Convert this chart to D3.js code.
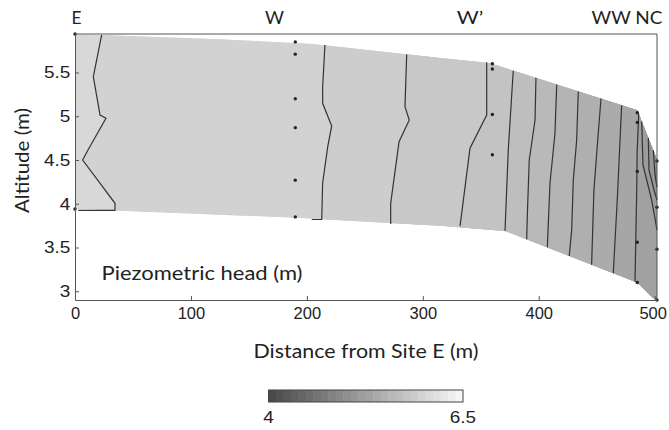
<!DOCTYPE html>
<html>
<head>
<meta charset="utf-8">
<script src="https://cdn.jsdelivr.net/npm/d3@7"></script>
<style>
body { margin: 0; background: #fff; }
</style>
</head>
<body>
<svg id="chart" width="669" height="430"></svg>
<script>
// axis ticks
const xTicks = [0, 100, 200, 300, 400, 500];
const yTicks = [3, 3.5, 4, 4.5, 5, 5.5];

// outline of the section (distance m, altitude m)
const sectionTop    = [[0, 5.94], [125, 5.88], [203, 5.83], [315, 5.665], [357, 5.61], [485, 5.07], [502, 4.50]];
const sectionBottom = [[502, 2.90], [498, 2.93], [485, 3.10], [371, 3.69], [315, 3.75], [190, 3.84], [0, 3.94]];

// piezometer screens
const sitesX  = {E: 0, W: 190, Wp: 360, WW: 485, NC: 502};
const screensE  = [5.94, 3.94];
const screensW  = [5.85, 5.71, 5.20, 4.87, 4.27, 3.85];
const screensWp = [5.60, 5.54, 5.02, 4.56];
const screensWW = [5.04, 4.93, 4.37, 3.56, 3.10];
const screensNC = [4.49, 3.96, 3.48, 2.90];

// head contours, from west (E) to east (NC)
const contourLevels = [6.00, 5.93, 5.86, 5.79, 5.72, 5.65, 5.58, 5.51, 5.44, 5.37, 5.30, 5.23, 5.16, 5.09];
const contourLines = [
  [[23.0, 5.93], [15.8, 5.452], [21.6, 5.014], [26.7, 4.977], [11.2, 4.614], [6.6, 4.50], [34.5, 4.005], [34.5, 3.925], [2.8, 3.925]],
  [[215.6, 5.815], [213.6, 5.338], [213.6, 5.148], [221.4, 4.889], [218.0, 4.652], [213.6, 4.237], [212.8, 3.82], [204.2, 3.82]],
  [[286.1, 5.705], [284.6, 5.109], [288.3, 4.957], [279.5, 4.709], [272.3, 4.005], [272.3, 3.77]],
  [[355.1, 5.613], [355.1, 5.014], [340.7, 4.634], [332.1, 3.745]],
  [[378.0, 5.52], [373.7, 4.614], [370.9, 3.69]],
  [[397.6, 5.44], [396.8, 4.957], [391.8, 4.50], [390.1, 3.852], [389.6, 3.595]],
  [[415.5, 5.364], [414.0, 4.805], [409.7, 4.234], [407.4, 3.502]],
  [[434.1, 5.284], [432.7, 4.729], [429.8, 4.271], [428.4, 3.70], [426.3, 3.404]],
  [[453.7, 5.202], [450.2, 4.614], [447.6, 4.157], [445.6, 3.304]],
  [[471.5, 5.126], [467.7, 4.043], [464.3, 3.207]],
  [[486.2, 5.03], [484.9, 4.60], [484.5, 4.157], [483.5, 3.45], [483.0, 3.11]],
  [[488.8, 4.94], [489.9, 4.443], [497.4, 4.043], [502, 3.70]],
  [[494.5, 4.75], [495.1, 4.386], [499.4, 4.157], [502, 4.043]],
  [[498.8, 4.61], [500.3, 4.329], [502, 4.191]]
];
const colorbarTicks = [4, 6.5];

const svg = d3.select("#chart");
const x = d3.scaleLinear().domain([0, 502]).range([75, 657]);
const y = d3.scaleLinear().domain([2.9, 5.94]).range([300, 34]);
const gray = d3.scaleLinear().domain([4, 6.5]).range(["#484848", "#f8f8f8"]);
const line = d3.line().x(d => x(d[0])).y(d => y(d[1]));

// clip everything to the section
svg.append("clipPath").attr("id", "section")
  .append("path")
  .attr("d", line(sectionTop.concat(sectionBottom)) + "Z");

const fills = svg.append("g").attr("clip-path", "url(#section)");
fills.append("path")
  .attr("d", line(sectionTop.concat(sectionBottom)) + "Z")
  .attr("fill", gray(6.04));

// each band = everything east of a contour line
contourLines.forEach((pts, i) => {
  const first = pts[0], last = pts[pts.length - 1];
  const endsOnRight = last[0] >= 502;
  const poly = [[first[0], 6.5]].concat(pts);
  if (endsOnRight) poly.push([700, last[1]]);
  else poly.push([last[0], 2.5], [700, 2.5]);
  poly.push([700, 6.5]);
  fills.append("path")
    .attr("d", line(poly) + "Z")
    .attr("fill", gray(contourLevels[i] - 0.04));
});

svg.append("g").selectAll("path")
  .data(contourLines)
  .enter().append("path")
    .attr("d", line)
    .attr("fill", "none")
    .attr("stroke", "#333")
    .attr("stroke-width", 1.2);

// screens
const screens = [].concat(
  screensE.map(v => [sitesX.E, v]),
  screensW.map(v => [sitesX.W, v]),
  screensWp.map(v => [sitesX.Wp, v]),
  screensWW.map(v => [sitesX.WW, v]),
  screensNC.map(v => [sitesX.NC, v]));
svg.append("g").selectAll("circle")
  .data(screens)
  .enter().append("circle")
    .attr("cx", d => x(d[0]))
    .attr("cy", d => y(d[1]))
    .attr("r", 1.7)
    .attr("fill", "#222");

// axes
const xAxis = svg.append("g")
  .attr("transform", "translate(0,300)")
  .call(d3.axisBottom(x).tickValues(xTicks).tickSizeInner(-4).tickSizeOuter(0).tickPadding(7));
const yAxis = svg.append("g")
  .attr("transform", "translate(75,0)")
  .call(d3.axisLeft(y).tickValues(yTicks).tickFormat(d3.format("")).tickSizeInner(-4).tickSizeOuter(0).tickPadding(4));

[xAxis, yAxis].forEach(a => {
  a.select(".domain").attr("stroke", "#555");
  a.selectAll(".tick line").attr("stroke", "#555");
  a.selectAll("text")
    .attr("font-family", "Liberation Sans, Arial, sans-serif")
    .attr("font-size", 16.5)
    .attr("fill", "#222");
});
yAxis.selectAll("text").attr("transform", "scale(1.15,1)");
xAxis.selectAll(".tick:last-of-type text").attr("dx", -2);

svg.append("path")
  .attr("d", `M${x(0)},${y(5.94)}H${x(502)}V${y(2.9)}`)
  .attr("fill", "none")
  .attr("stroke", "#555");

// site names along the top
const siteLabels = [["E", 76.5, 10], ["W", 274.5, 19], ["W\u2019", 470, 26.5], ["WW NC", 627, 71]];
svg.append("g").selectAll("text")
  .data(siteLabels)
  .enter().append("text")
    .attr("x", d => d[1])
    .attr("y", 24)
    .attr("text-anchor", "middle")
    .attr("font-family", "Lato, sans-serif")
    .attr("font-size", 16.5)
    .attr("textLength", d => d[2])
    .attr("lengthAdjust", "spacingAndGlyphs")
    .attr("fill", "#222")
    .text(d => d[0]);

svg.append("text")
  .attr("x", 366).attr("y", 358)
  .attr("text-anchor", "middle")
  .attr("font-family", "Lato, sans-serif")
  .attr("font-size", 18.5)
  .attr("textLength", 225).attr("lengthAdjust", "spacingAndGlyphs")
  .attr("fill", "#222")
  .text("Distance from Site E (m)");

svg.append("text")
  .attr("transform", "translate(28.5,160.5) rotate(-90)")
  .attr("text-anchor", "middle")
  .attr("font-family", "Lato, sans-serif")
  .attr("font-size", 18.5)
  .attr("textLength", 105).attr("lengthAdjust", "spacingAndGlyphs")
  .attr("fill", "#222")
  .text("Altitude (m)");

svg.append("text")
  .attr("x", 101.5).attr("y", 280)
  .attr("font-family", "Lato, sans-serif")
  .attr("font-size", 18.5)
  .attr("textLength", 201).attr("lengthAdjust", "spacingAndGlyphs")
  .attr("fill", "#222")
  .text("Piezometric head (m)");

// colour bar
const cb = d3.scaleLinear().domain([4, 6.5]).range([268.5, 463]);
const steps = d3.range(26);
svg.append("g").selectAll("rect")
  .data(steps)
  .enter().append("rect")
    .attr("x", i => cb(4 + i * 2.5 / 26))
    .attr("y", 390)
    .attr("width", (cb(6.5) - cb(4)) / 26 + 0.5)
    .attr("height", 12)
    .attr("fill", i => gray(4 + (i + 0.5) * 2.5 / 26));
svg.append("rect")
  .attr("x", cb(4)).attr("y", 390)
  .attr("width", cb(6.5) - cb(4)).attr("height", 12)
  .attr("fill", "none").attr("stroke", "#444");
svg.append("g").selectAll("text")
  .data(colorbarTicks)
  .enter().append("text")
    .attr("x", d => cb(d))
    .attr("y", 423)
    .attr("text-anchor", "middle")
    .attr("font-family", "Liberation Sans, Arial, sans-serif")
    .attr("font-size", 16.5)
    .attr("fill", "#222")
    .attr("transform", d => `translate(${cb(d)},0) scale(1.15,1) translate(${-cb(d)},0)`)
    .text(d => d);
</script>
</body>
</html>
